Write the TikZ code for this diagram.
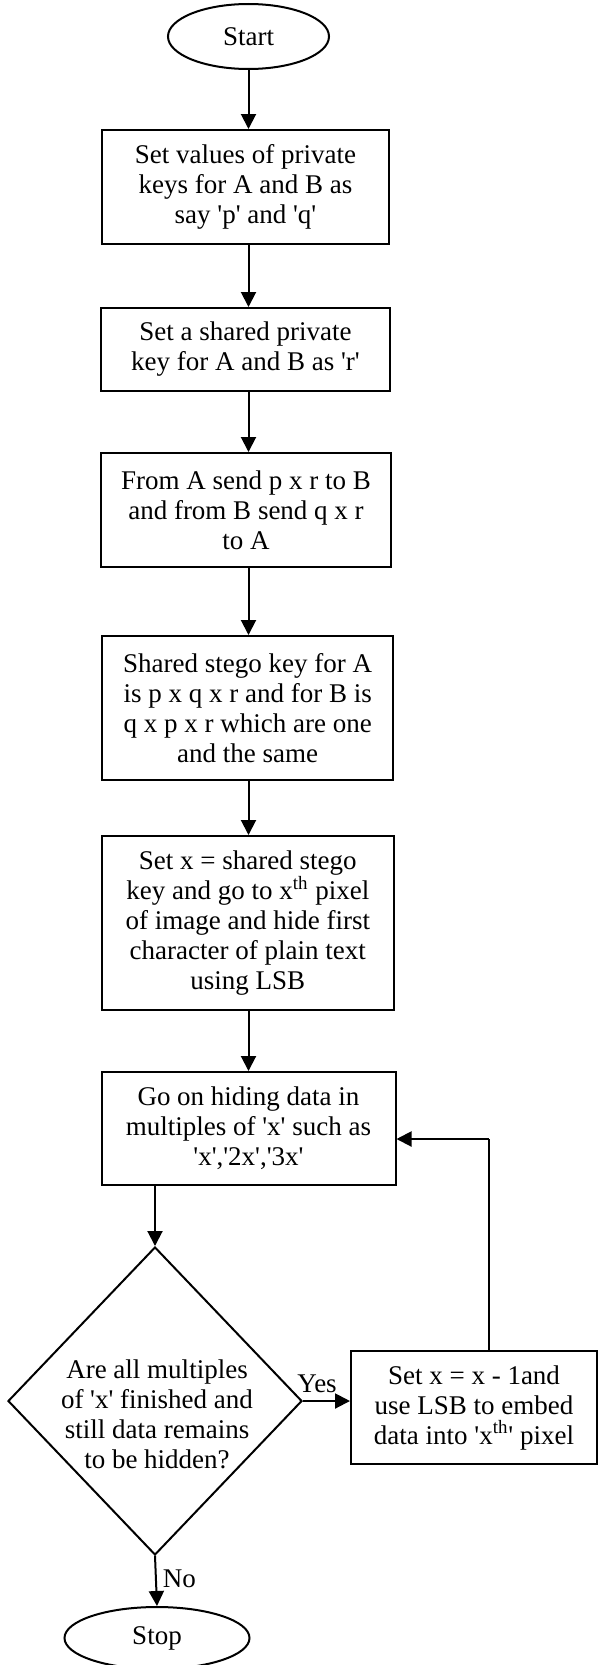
\documentclass[tikz,border=0pt]{standalone}
\usepackage{fontspec}
\setmainfont{Liberation Serif}[Ligatures=TeXOff]
\usetikzlibrary{shapes.geometric,arrows.meta}
\begin{document}
\begin{tikzpicture}[x=0.5pt,y=-0.5pt,
  every node/.style={font=\fontsize{13.5pt}{15pt}\selectfont, inner sep=0pt, align=center},
  procbox/.style={draw, rectangle, line width=1pt},
  term/.style={draw, ellipse, line width=1pt},
  decision/.style={draw, diamond, line width=1pt},
  conn/.style={line width=1pt, -{Triangle[length=7.5pt,width=7.5pt]}},
  line/.style={line width=1pt},
  lbl/.style={font=\fontsize{13.5pt}{15pt}\selectfont}
  ]
\useasboundingbox (0,0) rectangle (599,1665);

\node[term, minimum width=80.5pt, minimum height=32.5pt] (start) at (248.5,36.5) {Start};

\node[procbox, minimum width=143.5pt, minimum height=57pt] (b1) at (245.5,187)
  {Set values of private\\keys for A and B as\\say 'p' and 'q'};
\node[procbox, minimum width=144.5pt, minimum height=41.5pt] (b2) at (245.5,349.5)
  {Set a shared private\\key for A and B as 'r'};
\node[procbox, minimum width=145pt, minimum height=57pt] (b3) at (246,510)
  {From A send p x r to B\\and from B send q x r\\to A};
\node[procbox, minimum width=145.5pt, minimum height=72pt] (b4) at (247.7,708)
  {Shared stego key for A\\is p x q x r and for B is\\q x p x r which are one\\and the same};
\node[procbox, minimum width=146pt, minimum height=87pt] (b5) at (247.8,923)
  {Set x = shared stego\\key and go to x\textsuperscript{th} pixel\\of image and hide first\\character of plain text\\using LSB};
\node[procbox, minimum width=147pt, minimum height=56.5pt] (b6) at (248.5,1128.5)
  {Go on hiding data in\\multiples of 'x' such as\\'x','2x','3x'};

\node[decision, minimum width=147pt, minimum height=154pt] (d) at (155,1401) {};
\node (dtext) at (157,1414)
  {Are all multiples\\of 'x' finished and\\still data remains\\to be hidden?};

\node[procbox, minimum width=123pt, minimum height=56.5pt] (b7) at (474,1407.5)
  {Set x = x - 1and\\use LSB to embed\\data into 'x\textsuperscript{th}' pixel};

\node[term, minimum width=92.5pt, minimum height=31pt] (stop) at (157,1638) {Stop};

\coordinate (fb) at (489,1139);

\draw[conn] (start.south) -- (b1.north -| start.south);
\draw[conn] (b1.south -| start.south) -- (b2.north -| start.south);
\draw[conn] (b2.south -| start.south) -- (b3.north -| start.south);
\draw[conn] (b3.south -| start.south) -- (b4.north -| start.south);
\draw[conn] (b4.south -| start.south) -- (b5.north -| start.south);
\draw[conn] (b5.south -| start.south) -- (b6.north -| start.south);
\draw[conn] (b6.south -| d.north) -- (d.north);
\draw[conn] (d.east) -- (d.east -| b7.west) node[lbl, pos=0.3, above=3.5pt] (yes) {Yes};
\draw[line] (b7.north -| fb) -- (fb);
\draw[conn] (fb) -- (fb -| b6.east);
\draw[conn] (d.south) -- (stop.north) node[lbl, pos=0.45, right=3pt] (no) {No};
\end{tikzpicture}
\end{document}
